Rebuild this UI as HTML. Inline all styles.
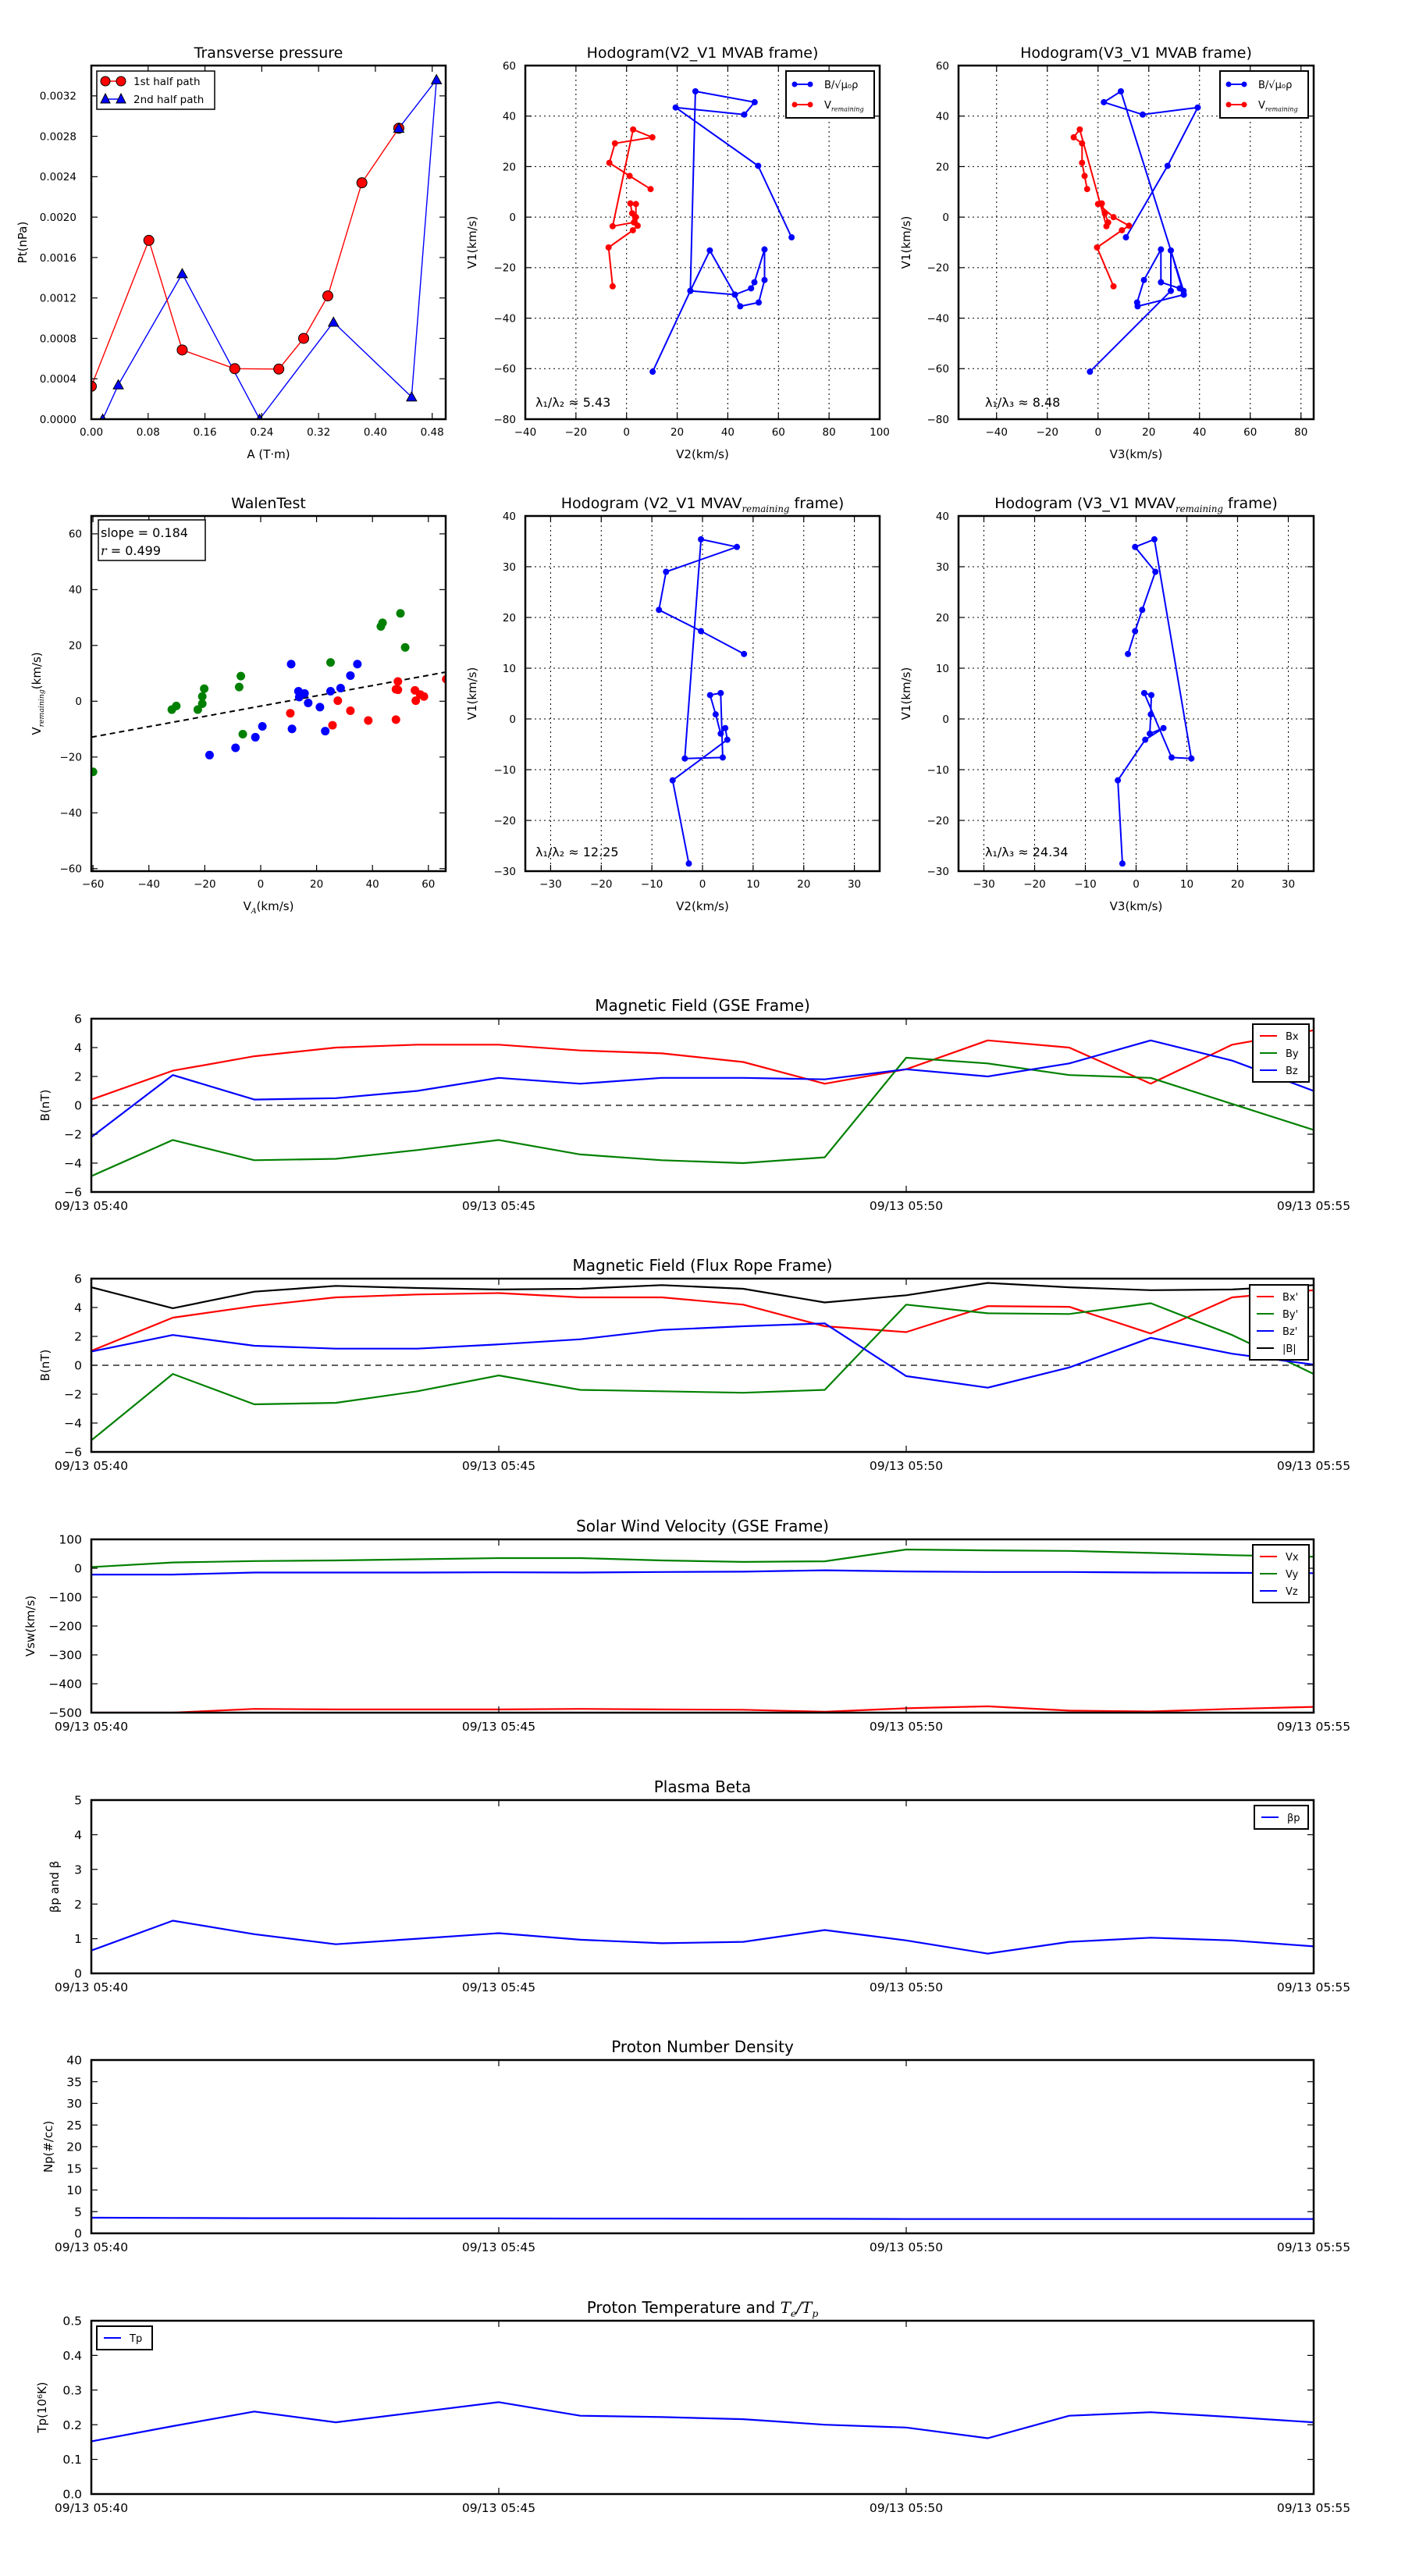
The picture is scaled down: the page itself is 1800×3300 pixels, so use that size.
<!DOCTYPE html>
<html><head><meta charset="utf-8"><style>
html,body{margin:0;padding:0;background:#fff;}
svg{display:block;font-family:"DejaVu Sans","Liberation Sans",sans-serif;}
</style></head><body>
<svg id="fig" xmlns="http://www.w3.org/2000/svg" width="1800" height="3300" viewBox="0 0 1800 3300"></svg>
<script>
// ---------- DATA ----------
const ptRedA=[0,0.081,0.128,0.202,0.264,0.299,0.333,0.381,0.433];
const ptRedP=[0.000325,0.00177,0.000685,0.0005,0.000496,0.0008,0.00122,0.00234,0.00288];
const ptBlueA=[0.433,0.486,0.451,0.341,0.237,0.128,0.038,0.016];
const ptBlueP=[0.00288,0.00336,0.00022,0.00096,0,0.00144,0.00034,0];

const mvabBV2=[10.3,25.2,32.9,42.8,49.2,50.5,54.5,54.5,52.2,44.9,42.8,25.2,27.2,50.6,46.5,19.4,52.0,65.2];
const mvabBV3=[-3.2,28.7,28.7,33.8,32.2,24.8,24.8,18.1,15.4,15.6,33.8,33.7,9.0,2.3,17.6,39.3,27.4,11.0];
const mvabBV1=[-61.2,-29.2,-13.2,-30.7,-28.2,-25.8,-12.8,-24.9,-33.8,-35.3,-30.7,-29.2,49.8,45.5,40.6,43.4,20.3,-8.0];
const mvabRV2=[-5.5,-7.1,2.5,4.4,3.7,3.7,1.5,2.2,2.9,-5.5,2.6,10.2,-4.6,-6.8,1.2,9.5];
const mvabRV3=[6.1,-0.4,9.4,12.2,6.1,0,1.5,2.7,4.0,3.3,-7.2,-9.6,-6.3,-6.3,-5.3,-4.3];
const mvabRV1=[-27.4,-12.0,-5.2,-3.4,0,5.2,5.4,1.5,-2.1,-3.6,34.7,31.6,29.2,21.5,16.3,11.1];

const walenGX=[-60,-31.8,-30.2,-22.5,-20.9,-20.9,-20.2,-7.7,-7.1,-6.4,25.0,43.0,43.6,50.0,51.7];
const walenGY=[-25.3,-3.0,-1.7,-3.0,-0.9,1.7,4.5,5.1,9.0,-11.8,13.9,26.8,28.1,31.5,19.3];
const walenBX=[-18.3,-9.0,-1.9,0.6,10.9,11.2,13.5,13.8,15.7,17.0,21.2,23.1,25.0,28.6,32.1,34.6];
const walenBY=[-19.3,-16.7,-12.9,-9.0,13.3,-9.9,3.6,1.5,2.8,-0.6,-2.1,-10.7,3.6,4.7,9.2,13.3];
const walenRX=[10.6,25.7,27.6,32.1,38.5,48.4,48.4,49.1,49.1,55.2,55.5,57.1,58.4,66.4];
const walenRY=[-4.3,-8.6,0.2,-3.4,-6.9,-6.6,4.3,7.1,4.1,3.9,0.2,2.4,1.7,7.9];
const walenSlope=0.184, walenIntercept=-1.75;

const mvavV1=[-28.5,-12.1,-4.1,-1.8,-2.9,0.9,4.7,5.1,-7.6,-7.8,35.4,33.9,29.0,21.5,17.3,12.8];
const mvavV2=[-2.7,-5.9,4.9,4.5,3.6,2.6,1.5,3.6,4.0,-3.5,-0.3,6.8,-7.2,-8.6,-0.3,8.2];
const mvavV3=[-2.7,-3.6,1.8,5.4,2.7,2.9,3.0,1.6,7.0,10.9,3.6,-0.2,3.8,1.2,-0.2,-1.6];

const tMin=[0,1,2,3,4,5,6,7,8,9,10,11,12,13,14,15];
const timeTickMin=[0,5,10,15];
const timeTickLbl=["09/13 05:40","09/13 05:45","09/13 05:50","09/13 05:55"];
const bx=[0.4,2.4,3.4,4.0,4.2,4.2,3.8,3.6,3.0,1.5,2.5,4.5,4.0,1.5,4.2,5.2];
const by=[-4.9,-2.4,-3.8,-3.7,-3.1,-2.4,-3.4,-3.8,-4.0,-3.6,3.3,2.9,2.1,1.9,0.1,-1.7];
const bz=[-2.2,2.1,0.4,0.5,1.0,1.9,1.5,1.9,1.9,1.8,2.5,2.0,2.9,4.5,3.1,1.0];
const bxp=[1.0,3.3,4.1,4.7,4.9,5.0,4.7,4.7,4.2,2.7,2.3,4.1,4.05,2.2,4.7,5.2];
const byp=[-5.2,-0.6,-2.7,-2.6,-1.8,-0.7,-1.7,-1.8,-1.9,-1.7,4.2,3.6,3.55,4.3,2.1,-0.6];
const bzp=[0.95,2.1,1.35,1.15,1.15,1.45,1.8,2.45,2.7,2.9,-0.75,-1.55,-0.15,1.9,0.8,0.05];
const bmag=[5.4,3.95,5.1,5.5,5.35,5.25,5.3,5.55,5.3,4.35,4.85,5.7,5.4,5.2,5.25,5.55];
const vx=[-500,-500,-487,-489,-489,-489,-487,-489,-490,-497,-485,-478,-493,-496,-487,-480];
const vy=[4,20,25,27,31,35,35,27,22,24,65,62,60,53,45,40];
const vz=[-22,-22,-15,-15,-15,-14,-15,-13,-12,-7,-11,-13,-13,-15,-16,-17];
const beta=[0.66,1.52,1.13,0.84,1.0,1.16,0.97,0.87,0.91,1.25,0.95,0.57,0.91,1.03,0.95,0.78];
const np=[3.6,3.55,3.5,3.5,3.45,3.45,3.4,3.4,3.35,3.35,3.3,3.3,3.3,3.3,3.3,3.3];
const tp=[0.152,0.196,0.238,0.207,0.236,0.265,0.226,0.222,0.216,0.2,0.192,0.161,0.226,0.236,0.222,0.207];

// ---------- HELPERS ----------
const NS="http://www.w3.org/2000/svg";
const fig=document.getElementById('fig');
function mk(tag,attrs,parent,name,inter){
  const e=document.createElementNS(NS,tag);
  for(const k in attrs) e.setAttribute(k,attrs[k]);
  
  
  (parent||fig).appendChild(e);
  return e;
}
// s may be a string or an array of parts: string | {t, sub:true, it:true}
function txt(s,x,y,size,anchor,parent,name,extra){
  const a={x:x,y:y,'font-size':size,'text-anchor':anchor||'middle',fill:'#000'};
  if(extra) for(const k in extra) a[k]=extra[k];
  const t=mk('text',a,parent,name,false);
  if(typeof s==='string'){t.textContent=s;return t;}
  let lastSub=false;
  s.forEach(p=>{
    if(typeof p==='string'){
      const sp=mk('tspan',lastSub?{dy:-size*0.25}:{},t,'text-part',false);
      sp.textContent=p;lastSub=false;
    } else {
      const at={};
      if(p.it){at['font-style']='italic';at['font-family']='"DejaVu Serif","Liberation Serif",serif';}
      if(p.sub){at['font-size']=size*0.62;if(!lastSub)at.dy=size*0.25;}
      else if(lastSub){at.dy=-size*0.25;}
      const sp=mk('tspan',at,t,p.sub?'subscript':'text-part',false);
      sp.textContent=p.t;lastSub=!!p.sub;
    }
  });
  return t;
}
function axes(c){
  const g=mk('g',{},fig,c.name,false);
  c.g=g;
  c.sx=v=>c.x0+(v-c.xmin)/(c.xmax-c.xmin)*(c.x1-c.x0);
  c.sy=v=>c.y1-(v-c.ymin)/(c.ymax-c.ymin)*(c.y1-c.y0);
  const clipId='clip-'+c.name;
  const cp=mk('clipPath',{id:clipId},g,'clip',false);
  mk('rect',{x:c.x0,y:c.y0,width:c.x1-c.x0,height:c.y1-c.y0},cp,'clip-rect',false);
  c.plot=mk('g',{'clip-path':'url(#'+clipId+')'},g,'plot-area',false);
  const fs=c.fs||13.5;
  c.xt.forEach((v,i)=>{
    const X=c.sx(v);
    if(c.grid) mk('line',{x1:X,y1:c.y0,x2:X,y2:c.y1,stroke:'#000','stroke-width':1,'stroke-dasharray':'2,4'},c.plot,'grid-x',false);
    mk('line',{x1:X,y1:c.y1,x2:X,y2:c.y1-8,stroke:'#000','stroke-width':1.2},g,'x-tick',false);
    mk('line',{x1:X,y1:c.y0,x2:X,y2:c.y0+8,stroke:'#000','stroke-width':1.2},g,'x-tick-top',false);
    txt(c.xl[i],X,c.y1+(c.xlOff||21),fs,'middle',g,'x-tick-label');
  });
  c.yt.forEach((v,i)=>{
    const Y=c.sy(v);
    if(c.grid) mk('line',{x1:c.x0,y1:Y,x2:c.x1,y2:Y,stroke:'#000','stroke-width':1,'stroke-dasharray':'2,4'},c.plot,'grid-y',false);
    mk('line',{x1:c.x0,y1:Y,x2:c.x0+8,y2:Y,stroke:'#000','stroke-width':1.2},g,'y-tick',false);
    mk('line',{x1:c.x1,y1:Y,x2:c.x1-8,y2:Y,stroke:'#000','stroke-width':1.2},g,'y-tick-right',false);
    txt(c.yl[i],c.x0-(c.ylOff||8),Y+fs*0.36,fs,'end',g,'y-tick-label');
  });
  mk('rect',{x:c.x0,y:c.y0,width:c.x1-c.x0,height:c.y1-c.y0,fill:'none',stroke:'#000','stroke-width':2.5},g,'axes-frame',false);
  if(c.title) txt(c.title,(c.x0+c.x1)/2,c.y0-10,c.tfs||19,'middle',g,'chart-title');
  if(c.xlabel) txt(c.xlabel,(c.x0+c.x1)/2,c.y1+50,15,'middle',g,'x-axis-title');
  if(c.ylabel){const yx=c.ylx, yy=(c.y0+c.y1)/2; txt(c.ylabel,yx,yy,15,'middle',g,'y-axis-title',{transform:'rotate(-90 '+yx+' '+yy+')'});}
  return c;
}
function line(c,xs,ys,color,w,name,dash){
  const pts=xs.map((v,i)=>c.sx(v).toFixed(1)+','+c.sy(ys[i]).toFixed(1)).join(' ');
  const a={points:pts,fill:'none',stroke:color,'stroke-width':w,'stroke-linejoin':'round'};
  if(dash) a['stroke-dasharray']=dash;
  return mk('polyline',a,c.plot,name,false);
}
function dots(c,xs,ys,color,r,name,stroke){
  xs.forEach((v,i)=>{
    mk('circle',{cx:c.sx(v),cy:c.sy(ys[i]),r:r,fill:color,stroke:stroke||'none','stroke-width':stroke?1:0},c.plot,name,false);
  });
}
function tris(c,xs,ys,color,r,name){
  xs.forEach((v,i)=>{
    const X=c.sx(v),Y=c.sy(ys[i]);
    mk('polygon',{points:`${X},${Y-r} ${X-r},${Y+r*0.8} ${X+r},${Y+r*0.8}`,fill:color,stroke:'#000','stroke-width':1},c.plot,name,false);
  });
}
function rng(a,b,s){const r=[];for(let v=a;v<=b+1e-9;v+=s)r.push(+v.toFixed(6));return r;}
const neg=v=>v<0?'−'+(-v):''+v;

// ---------- TRANSVERSE PRESSURE ----------
const tpx=rng(0,0.48,0.08), tpy=rng(0,0.0032,0.0004);
const A1=axes({name:'transverse-pressure-chart',x0:117,x1:571,y0:84,y1:537,xmin:0,xmax:0.499,ymin:0,ymax:0.0035,
  xt:tpx,xl:tpx.map(v=>v.toFixed(2)),yt:tpy,yl:tpy.map(v=>v.toFixed(4)),title:'Transverse pressure',xlabel:'A (T·m)',ylabel:'Pt(nPa)',ylx:34,ylOff:19});
line(A1,ptBlueA,ptBlueP,'#0000ff',1.4,'second-half-line');
line(A1,ptRedA,ptRedP,'#ff0000',1.4,'first-half-line');
dots(A1,ptRedA,ptRedP,'#ff0000',6.5,'first-half-point','#000');
tris(A1,ptBlueA,ptBlueP,'#0000ff',6.5,'second-half-point');
(function(){
  const g=mk('g',{},fig,'legend',false);
  mk('rect',{x:124,y:91,width:151,height:49,fill:'#fff',stroke:'#000','stroke-width':1.5},g,'legend-box',false);
  mk('line',{x1:135,y1:104,x2:155,y2:104,stroke:'#f00','stroke-width':1.4},g,'legend-line-first',false);
  mk('circle',{cx:135,cy:104,r:6,fill:'#f00',stroke:'#000'},g,'legend-marker',false);
  mk('circle',{cx:155,cy:104,r:6,fill:'#f00',stroke:'#000'},g,'legend-marker',false);
  txt('1st half path',171,109,13.5,'start',g,'legend-entry-first');
  mk('line',{x1:135,y1:127,x2:155,y2:127,stroke:'#00f','stroke-width':1.4},g,'legend-line-second',false);
  mk('polygon',{points:'135,120 129,132 141,132',fill:'#00f',stroke:'#000'},g,'legend-marker',false);
  mk('polygon',{points:'155,120 149,132 161,132',fill:'#00f',stroke:'#000'},g,'legend-marker',false);
  txt('2nd half path',171,132,13.5,'start',g,'legend-entry-second');
})();

// ---------- HODOGRAM LEGEND ----------
function hodoLegend(x,y,name){
  const g=mk('g',{},fig,name,false);
  mk('rect',{x:x,y:y,width:113,height:60,fill:'#fff',stroke:'#000','stroke-width':2},g,'legend-box',false);
  mk('line',{x1:x+11,y1:y+17,x2:x+31,y2:y+17,stroke:'#00f','stroke-width':2},g,'legend-line-b',false);
  mk('circle',{cx:x+11,cy:y+17,r:3.5,fill:'#00f'},g,'legend-marker',false);
  mk('circle',{cx:x+31,cy:y+17,r:3.5,fill:'#00f'},g,'legend-marker',false);
  txt('B/√μ₀ρ',x+49,y+22,13,'start',g,'legend-entry-b');
  mk('line',{x1:x+11,y1:y+43,x2:x+31,y2:y+43,stroke:'#f00','stroke-width':2},g,'legend-line-v',false);
  mk('circle',{cx:x+11,cy:y+43,r:3.5,fill:'#f00'},g,'legend-marker',false);
  mk('circle',{cx:x+31,cy:y+43,r:3.5,fill:'#f00'},g,'legend-marker',false);
  txt(['V',{t:'remaining',sub:true,it:true}],x+49,y+48,13,'start',g,'legend-entry-v');
}
const h20=rng(-40,100,20), hy=rng(-80,60,20);
const A2=axes({name:'hodogram-v2-v1-mvab',x0:673,x1:1127,y0:84,y1:537,xmin:-40,xmax:100,ymin:-80,ymax:60,grid:true,
  xt:h20,xl:h20.map(neg),yt:hy,yl:hy.map(neg),title:'Hodogram(V2_V1 MVAB frame)',xlabel:'V2(km/s)',ylabel:'V1(km/s)',ylx:610,ylOff:12});
line(A2,mvabBV2,mvabBV1,'#0000ff',2,'b-hodogram-line');dots(A2,mvabBV2,mvabBV1,'#0000ff',4,'b-hodogram-point');
line(A2,mvabRV2,mvabRV1,'#ff0000',2,'v-hodogram-line');dots(A2,mvabRV2,mvabRV1,'#ff0000',4,'v-hodogram-point');
hodoLegend(1007,91,'legend-mvab-v2');
txt('λ₁/λ₂ ≈ 5.43',686,521,16,'start',fig,'eigenvalue-ratio');
const h3=rng(-40,80,20);
const A3=axes({name:'hodogram-v3-v1-mvab',x0:1228,x1:1683,y0:84,y1:537,xmin:-55,xmax:85,ymin:-80,ymax:60,grid:true,
  xt:h3,xl:h3.map(neg),yt:hy,yl:hy.map(neg),title:'Hodogram(V3_V1 MVAB frame)',xlabel:'V3(km/s)',ylabel:'V1(km/s)',ylx:1166,ylOff:12});
line(A3,mvabBV3,mvabBV1,'#0000ff',2,'b-hodogram-line');dots(A3,mvabBV3,mvabBV1,'#0000ff',4,'b-hodogram-point');
line(A3,mvabRV3,mvabRV1,'#ff0000',2,'v-hodogram-line');dots(A3,mvabRV3,mvabRV1,'#ff0000',4,'v-hodogram-point');
hodoLegend(1563,91,'legend-mvab-v3');
txt('λ₁/λ₃ ≈ 8.48',1262,521,16,'start',fig,'eigenvalue-ratio');

// ---------- WALEN ----------
const wt=rng(-60,60,20);
const A4=axes({name:'walen-test-chart',x0:117,x1:571,y0:661,y1:1116,xmin:-60.6,xmax:66.2,ymin:-60.9,ymax:66.4,
  xt:wt,xl:wt.map(neg),yt:wt,yl:wt.map(neg),title:'WalenTest',xlabel:['V',{t:'A',sub:true,it:true},'(km/s)'],ylabel:['V',{t:'remaining',sub:true,it:true},'(km/s)'],ylx:52,ylOff:12});
line(A4,[-60.6,66.2],[-60.6,66.2].map(v=>walenSlope*v+walenIntercept),'#000',2,'fit-line','7,5');
dots(A4,walenGX,walenGY,'#008000',5.5,'walen-point-green');
dots(A4,walenBX,walenBY,'#0000ff',5.5,'walen-point-blue');
dots(A4,walenRX,walenRY,'#ff0000',5.5,'walen-point-red');
(function(){
  const g=mk('g',{},fig,'walen-stats-box',false);
  mk('rect',{x:126,y:666,width:137,height:52,fill:'#fff',stroke:'#000','stroke-width':1.5},g,'stats-box',false);
  txt('slope = 0.184',129,688,16,'start',g,'slope-label');
  txt([{t:'r',it:true},' = 0.499'],129,711,16,'start',g,'r-label');
})();

// ---------- MVAV ----------
const vt=rng(-30,30,10), vyT=rng(-30,40,10);
const A5=axes({name:'hodogram-v2-v1-mvav',x0:673,x1:1127,y0:661,y1:1116,xmin:-35,xmax:35,ymin:-30,ymax:40,grid:true,
  xt:vt,xl:vt.map(neg),yt:vyT,yl:vyT.map(neg),title:['Hodogram (V2_V1 MVAV',{t:'remaining',sub:true,it:true},' frame)'],xlabel:'V2(km/s)',ylabel:'V1(km/s)',ylx:610,ylOff:12});
line(A5,mvavV2,mvavV1,'#0000ff',2,'mvav-line');dots(A5,mvavV2,mvavV1,'#0000ff',4,'mvav-point');
txt('λ₁/λ₂ ≈ 12.25',686,1097,16,'start',fig,'eigenvalue-ratio');
const A6=axes({name:'hodogram-v3-v1-mvav',x0:1228,x1:1683,y0:661,y1:1116,xmin:-35,xmax:35,ymin:-30,ymax:40,grid:true,
  xt:vt,xl:vt.map(neg),yt:vyT,yl:vyT.map(neg),title:['Hodogram (V3_V1 MVAV',{t:'remaining',sub:true,it:true},' frame)'],xlabel:'V3(km/s)',ylabel:'V1(km/s)',ylx:1166,ylOff:12});
line(A6,mvavV3,mvavV1,'#0000ff',2,'mvav-line');dots(A6,mvavV3,mvavV1,'#0000ff',4,'mvav-point');
txt('λ₁/λ₃ ≈ 24.34',1262,1097,16,'start',fig,'eigenvalue-ratio');

// ---------- TIME SERIES ----------
function ts(name,top,ymin,ymax,yt,yl,title,ylabel,ylx){
  return axes({name:name,x0:117,x1:1683,y0:top,y1:top+222,xmin:0,xmax:15,ymin:ymin,ymax:ymax,fs:15.5,xlOff:23,
    xt:timeTickMin,xl:timeTickLbl,yt:yt,yl:yl,title:title,tfs:20,ylabel:ylabel,ylx:ylx,ylOff:12});
}
function tlegend(x,y,w,labels,colors,name){
  const g=mk('g',{},fig,name,false);
  mk('rect',{x:x,y:y,width:w,height:labels.length*22+8,fill:'#fff',stroke:'#000','stroke-width':2},g,'legend-box',false);
  labels.forEach((l,i)=>{
    const yy=y+15+i*22;
    mk('line',{x1:x+9,y1:yy,x2:x+31,y2:yy,stroke:colors[i],'stroke-width':2},g,'legend-line',false);
    txt(l,x+42,yy+5,13,'start',g,'legend-entry');
  });
}
const bt=rng(-6,6,2), btl=bt.map(neg);
const T1=ts('magnetic-field-gse-chart',1305,-6,6,bt,btl,'Magnetic Field (GSE Frame)','B(nT)',63);
line(T1,[0,15],[0,0],'#000',1.2,'zero-line','8,6');
line(T1,tMin,bx,'#ff0000',2.2,'bx-line');line(T1,tMin,by,'#008000',2.2,'by-line');line(T1,tMin,bz,'#0000ff',2.2,'bz-line');
tlegend(1605,1312,72,['Bx','By','Bz'],['#f00','#008000','#00f'],'legend-gse');

const T2=ts('magnetic-field-flux-rope-chart',1638,-6,6,bt,btl,'Magnetic Field (Flux Rope Frame)','B(nT)',63);
line(T2,[0,15],[0,0],'#000',1.2,'zero-line','8,6');
line(T2,tMin,bmag,'#000000',2.2,'bmag-line');line(T2,tMin,bxp,'#ff0000',2.2,'bx-prime-line');
line(T2,tMin,byp,'#008000',2.2,'by-prime-line');line(T2,tMin,bzp,'#0000ff',2.2,'bz-prime-line');
tlegend(1601,1646,75,["Bx'","By'","Bz'","|B|"],['#f00','#008000','#00f','#000'],'legend-flux-rope');

const vt2=rng(-500,100,100);
const T3=ts('solar-wind-velocity-chart',1972,-500,100,vt2,vt2.map(neg),'Solar Wind Velocity (GSE Frame)','Vsw(km/s)',44);
line(T3,tMin,vx,'#ff0000',2.2,'vx-line');line(T3,tMin,vy,'#008000',2.2,'vy-line');line(T3,tMin,vz,'#0000ff',2.2,'vz-line');
tlegend(1605,1979,72,['Vx','Vy','Vz'],['#f00','#008000','#00f'],'legend-velocity');

const bt5=rng(0,5,1);
const T4=ts('plasma-beta-chart',2306,0,5,bt5,bt5.map(String),'Plasma Beta','βp and β',75);
line(T4,tMin,beta,'#0000ff',2.2,'beta-line');
tlegend(1607,2313,69,['βp'],['#00f'],'legend-beta');

const nt=rng(0,40,5);
const T5=ts('proton-density-chart',2639,0,40,nt,nt.map(String),'Proton Number Density','Np(#/cc)',67);
line(T5,tMin,np,'#0000ff',2.2,'np-line');

const tt=rng(0,0.5,0.1);
const T6=ts('proton-temperature-chart',2973,0,0.5,tt,tt.map(v=>v.toFixed(1)),['Proton Temperature and ',{t:'T',it:true},{t:'e',sub:true,it:true},{t:'/T',it:true},{t:'p',sub:true,it:true}],'Tp(10⁶K)',59);
line(T6,tMin,tp,'#0000ff',2.2,'tp-line');
tlegend(124,2980,71,['Tp'],['#00f'],'legend-tp');
</script>
</body></html>
